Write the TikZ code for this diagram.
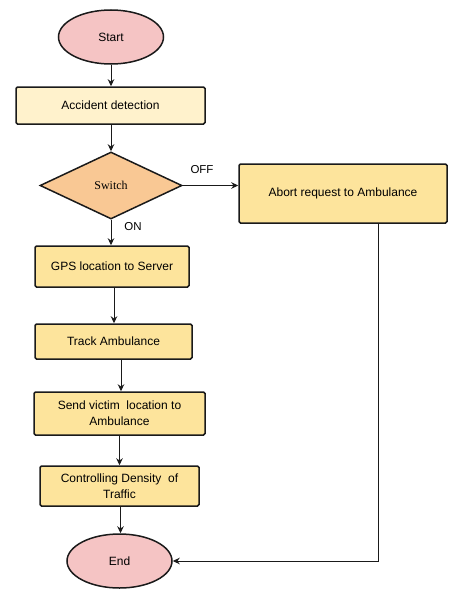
\documentclass[tikz,border=0pt]{standalone}
\usepackage{fontspec}
\setmainfont{Liberation Sans}
\newfontfamily\serifsw{Liberation Serif}
\usetikzlibrary{shapes.geometric,arrows.meta,calc}
\definecolor{pinkfill}{HTML}{F5C4C4}
\definecolor{creamfill}{HTML}{FFF2CC}
\definecolor{peachfill}{HTML}{F9C894}
\definecolor{yelfill}{HTML}{FDE49C}
\definecolor{edge}{HTML}{1A1A1A}
\tikzset{
  term/.style={ellipse, draw=edge, line width=1.5pt, fill=pinkfill, inner sep=0pt,
    minimum width=105pt, minimum height=54pt, font=\fontsize{12}{15}\selectfont},
  proc/.style={rectangle, draw=edge, line width=1.5pt, rounded corners=1.5pt, inner sep=0pt,
    align=center, font=\fontsize{12}{16}\selectfont, fill=yelfill},
  dec/.style={diamond, draw=edge, line width=1.5pt, fill=peachfill, inner sep=0pt,
    minimum width=142pt, minimum height=67pt, font=\serifsw\fontsize{12}{15}\selectfont},
  lbl/.style={font=\fontsize{11.5}{14}\selectfont, inner sep=0pt},
  arr/.style={draw=edge, line width=1pt, -{Stealth[length=7pt,width=6.5pt]}}
}
\begin{document}
\begin{tikzpicture}[x=1pt,y=-1pt]
\useasboundingbox (0,0) rectangle (448,589);
\node[term] (start) at (111,37) {Start};
\node[proc, fill=creamfill, minimum width=189pt, minimum height=37pt] (acc) at (110.5,105.5) {Accident detection};
\node[dec] (sw) at (111,185.5) {Switch};
\node[proc, minimum width=208pt, minimum height=59pt] (abort) at (343,193.5) {Abort request to Ambulance};
\node[proc, minimum width=154pt, minimum height=41pt] (gps) at (112,266.5) {GPS location to Server};
\node[proc, minimum width=157pt, minimum height=35pt] (track) at (113.5,341.5) {Track Ambulance};
\node[proc, minimum width=171pt, minimum height=43pt] (send) at (119.5,413.5) {Send victim\ \ location to\\Ambulance};
\node[proc, minimum width=159pt, minimum height=40pt] (ctrl) at (119.5,486) {Controlling Density\ \ of\\Traffic};
\node[term] (end) at (119.5,561) {End};
\node[lbl] (off) at (202,170) {OFF};
\node[lbl] (on) at (133,227) {ON};
\coordinate (down) at ([xshift=35pt]abort.south);
\draw[arr] (start.south) -- (start.south |- acc.north);
\draw[arr] (acc.south) -- (acc.south -| sw.north) -- (sw.north);
\draw[arr] (sw.east) -- (sw.east -| abort.west);
\draw[arr] (sw.south) -- (sw.south |- gps.north);
\draw[arr] ([xshift=2pt]gps.south) -- ([xshift=2pt]gps.south |- track.north);
\draw[arr] ([xshift=7.5pt]track.south) -- ([xshift=7.5pt]track.south |- send.north);
\draw[arr] (send.south) -- (send.south |- ctrl.north);
\draw[arr] ([xshift=1pt]ctrl.south) -- ([xshift=1pt]ctrl.south |- end.north);
\draw[arr] (down) |- (end.east);
\end{tikzpicture}
\end{document}
